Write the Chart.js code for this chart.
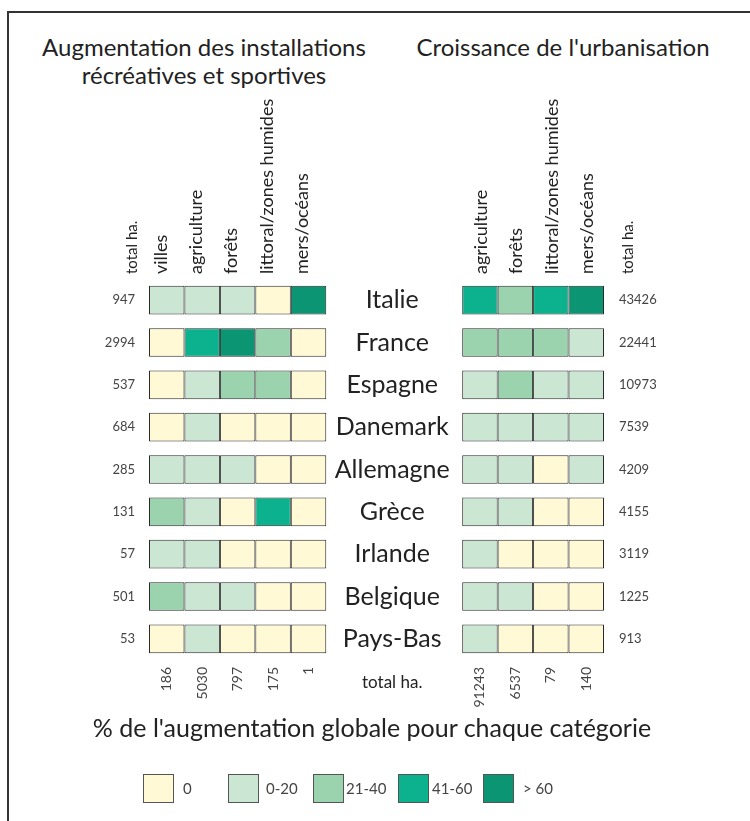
<!DOCTYPE html>
<html lang="fr">
<head>
<meta charset="utf-8">
<title>Installations récréatives et urbanisation</title>
<script src="https://cdn.jsdelivr.net/npm/chart.js@4.4.1/dist/chart.umd.min.js"></script>
<style>
  html, body { margin: 0; padding: 0; background: #fff; }
  body { width: 750px; height: 821px; position: relative; overflow: hidden; font-family: Lato, 'Noto Sans', sans-serif; color: #222; }
  #frame { position: absolute; left: 7px; top: 11px; width: 800px; height: 900px; border: 2px solid #333; box-sizing: border-box; }
  #chart-wrap { position: absolute; left: 0; top: 0; width: 750px; height: 821px; }
  .title { position: absolute; top: 33px; font-size: 24px; line-height: 28px; text-align: center; }
  #title-left { left: 24px; width: 360px; }
  #title-right { left: 390px; width: 346px; }
  #caption { position: absolute; left: 0; top: 712px; width: 744px; font-size: 25px; line-height: 30px; text-align: center; }
  .key { position: absolute; top: 774px; width: 31px; height: 29px; box-sizing: border-box; border: 1px solid #555; }
  .key-label { position: absolute; top: 774px; font-size: 15px; line-height: 29px; color: #444; }
</style>
</head>
<body>
<div id="frame"></div>
<div class="title" id="title-left">Augmentation des installations<br>récréatives et sportives</div>
<div class="title" id="title-right">Croissance de l'urbanisation</div>
<div id="chart-wrap"><canvas id="grid-chart" width="750" height="821"></canvas></div>
<div id="caption">% de l'augmentation globale pour chaque catégorie</div>
<div id="legend"></div>
<script>
const countries = ['Italie', 'France', 'Espagne', 'Danemark', 'Allemagne', 'Grèce', 'Irlande', 'Belgique', 'Pays-Bas'];
const leftColumns = ['villes', 'agriculture', 'forêts', 'littoral/zones humides', 'mers/océans'];
const rightColumns = ['agriculture', 'forêts', 'littoral/zones humides', 'mers/océans'];

const leftRowTotals = [947, 2994, 537, 684, 285, 131, 57, 501, 53];
const rightRowTotals = [43426, 22441, 10973, 7539, 4209, 4155, 3119, 1225, 913];
const leftColTotals = [186, 5030, 797, 175, 1];
const rightColTotals = [91243, 6537, 79, 140];

// classe de chaque case : 0 = 0, 1 = 0-20, 2 = 21-40, 3 = 41-60, 4 = > 60
const leftClasses = [
  [1, 1, 1, 0, 4],
  [0, 3, 4, 2, 0],
  [0, 1, 2, 2, 0],
  [0, 1, 0, 0, 0],
  [1, 1, 1, 0, 0],
  [2, 1, 0, 3, 0],
  [1, 1, 0, 0, 0],
  [2, 1, 1, 0, 0],
  [0, 1, 0, 0, 0]
];
const rightClasses = [
  [3, 2, 3, 4],
  [2, 2, 2, 1],
  [1, 2, 1, 1],
  [1, 1, 1, 1],
  [1, 1, 0, 1],
  [1, 1, 0, 0],
  [1, 0, 0, 0],
  [1, 1, 0, 0],
  [1, 0, 0, 0]
];

const classLabels = ['0', '0-20', '21-40', '41-60', '> 60'];
const classColors = ['#fff9d5', '#cce6d4', '#9bd3ae', '#0cb28e', '#0b9573'];

// la grille de droite commence après l'espace des noms de pays (en largeurs de colonne)
const RIGHT_START = 8.835;
const X_MAX = RIGHT_START + rightColumns.length;
// chart.js décale les libellés tournés d'un axe "top" d'une hauteur de ligne vers la gauche
const LEFT_HEADER_SHIFT = 0.44;
const RIGHT_HEADER_SHIFT = 0.64;

const cellStyle = {
  borderColor: '#2a2a2a',
  borderWidth: 1,
  borderSkipped: false,
  barPercentage: 1,
  categoryPercentage: 0.677,
  grouped: false
};

const datasets = [];
leftColumns.forEach((name, c) => {
  datasets.push({
    ...cellStyle,
    label: 'Installations : ' + name,
    data: countries.map(() => [c, c + 1]),
    backgroundColor: leftClasses.map(row => classColors[row[c]])
  });
});
rightColumns.forEach((name, c) => {
  datasets.push({
    ...cellStyle,
    label: 'Urbanisation : ' + name,
    data: countries.map(() => [RIGHT_START + c, RIGHT_START + c + 1]),
    backgroundColor: rightClasses.map(row => classColors[row[c]])
  });
});

// libellés du haut : "total ha." + colonnes gauche + colonnes droite + "total ha."
const topTickValues = [0.03]
  .concat(leftColumns.map((n, c) => c + 0.5 + LEFT_HEADER_SHIFT))
  .concat(rightColumns.map((n, c) => RIGHT_START + c + 0.5 + RIGHT_HEADER_SHIFT))
  .concat([X_MAX + 1.18]);
const topTickLabels = ['total ha.'].concat(leftColumns, rightColumns, ['total ha.']);

const bottomTickValues = leftColumns.map((n, c) => c + 0.5)
  .concat(rightColumns.map((n, c) => RIGHT_START + c + 0.5));
const bottomTickLabels = leftColTotals.concat(rightColTotals).map(String);

const countryNames = {
  id: 'countryNames',
  afterDatasetsDraw(chart) {
    const { ctx, scales: { x, y } } = chart;
    const cx = (x.getPixelForValue(leftColumns.length) + x.getPixelForValue(RIGHT_START)) / 2 - 2;
    ctx.save();
    ctx.font = '25px Lato';
    ctx.fillStyle = '#222';
    ctx.textAlign = 'center';
    ctx.textBaseline = 'middle';
    countries.forEach((name, i) => ctx.fillText(name, cx, y.getPixelForValue(i)));
    ctx.font = '17px Lato';
    ctx.fillText('total ha.', cx, chart.chartArea.bottom + 23);
    ctx.restore();
  }
};

Chart.defaults.font.family = 'Lato';

new Chart(document.getElementById('grid-chart'), {
  type: 'bar',
  data: { labels: countries, datasets: datasets },
  options: {
    indexAxis: 'y',
    responsive: false,
    animation: false,
    layout: { padding: { left: 89, right: 86, top: 0, bottom: 101 } },
    plugins: {
      legend: { display: false },
      tooltip: { enabled: false }
    },
    scales: {
      x: {
        type: 'linear',
        position: 'top',
        min: 0,
        max: X_MAX,
        grid: { display: false, drawTicks: false },
        border: { display: false },
        afterBuildTicks: axis => { axis.ticks = topTickValues.map(v => ({ value: v })); },
        afterFit: axis => { axis.height = 279; },
        ticks: {
          autoSkip: false,
          minRotation: 90,
          maxRotation: 90,
          padding: 5,
          color: '#222',
          font: ctx => ({ size: (ctx.index === 0 || ctx.index === topTickLabels.length - 1) ? 15 : 18 }),
          callback: (v, i) => topTickLabels[i]
        }
      },
      x2: {
        type: 'linear',
        position: 'bottom',
        min: 0,
        max: X_MAX,
        grid: { display: false, drawTicks: false },
        border: { display: false },
        afterBuildTicks: axis => { axis.ticks = bottomTickValues.map(v => ({ value: v })); },
        afterFit: axis => { axis.height = 60; },
        ticks: {
          autoSkip: false,
          minRotation: 90,
          maxRotation: 90,
          padding: 7,
          color: '#444',
          font: { size: 14 },
          callback: (v, i) => bottomTickLabels[i]
        }
      },
      y: {
        type: 'category',
        position: 'left',
        grid: { display: false, drawTicks: false },
        border: { display: false },
        afterFit: axis => { axis.width = 60; },
        ticks: {
          padding: 14,
          color: '#444',
          font: { size: 13 },
          callback: (v, i) => String(leftRowTotals[i])
        }
      },
      y2: {
        type: 'category',
        labels: countries,
        offset: true,
        position: 'right',
        grid: { display: false, drawTicks: false },
        border: { display: false },
        afterFit: axis => { axis.width = 60; },
        ticks: {
          padding: 15,
          color: '#444',
          font: { size: 13 },
          callback: (v, i) => String(rightRowTotals[i])
        }
      }
    }
  },
  plugins: [countryNames]
});

// légende des classes
const legend = document.getElementById('legend');
const labelGaps = [9, 7, 2, 3, 9];
classLabels.forEach((label, i) => {
  const left = 143 + i * 85;
  const box = document.createElement('div');
  box.className = 'key';
  box.style.left = left + 'px';
  box.style.background = classColors[i];
  legend.appendChild(box);
  const text = document.createElement('div');
  text.className = 'key-label';
  text.style.left = (left + 31 + labelGaps[i]) + 'px';
  text.textContent = label;
  legend.appendChild(text);
});
</script>
</body>
</html>
